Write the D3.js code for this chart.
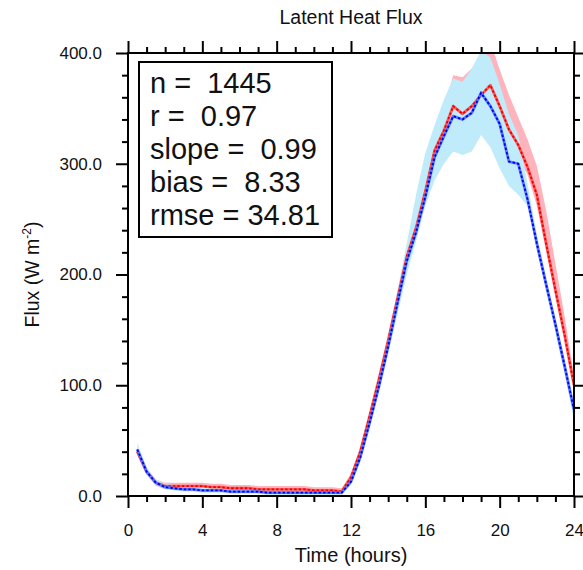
<!DOCTYPE html>
<html>
<head>
<meta charset="utf-8">
<script src="https://cdn.jsdelivr.net/npm/d3@7/dist/d3.min.js"></script>
<style>
  html, body { margin: 0; padding: 0; background: #fff; }
  svg { display: block; }
  text { font-family: "Liberation Sans", Arial, Helvetica, sans-serif; fill: #111; }
</style>
</head>
<body>
<svg id="chart" width="583" height="570"></svg>
<script>
// ---- data ----
const hours = [0.5,1,1.5,2,2.5,3,3.5,4,4.5,5,5.5,6,6.5,7,7.5,8,8.5,9,9.5,10,10.5,11,11.5,
               12,12.5,13,13.5,14,14.5,15,15.5,16,16.5,17,17.5,18,18.5,19,19.5,20,20.5,21,21.5,22,22.5,23,23.5,24];
const redSeries = [40,22,12,9,9,9,9,9,8,8,7,7,7,6,6,6,6,6,6,5,5,5,4,
                   17,40,72,105,140,178,216,242,275,312,330,352,345,352,362,371,352,331,317,297,272,228,186,145,100];
const redHigh   = [43,25,15,12,12,12,12,12,11,11,10,10,10,9,9,9,9,9,9,8,8,8,7,
                   20,44,76,110,146,184,222,250,285,322,350,380,378,386,398,410,385,362,342,322,298,258,210,162,108];
const redLow    = [37,19,9,6,6,6,6,6,5,5,4,4,4,3,3,3,3,3,3,2,2,2,1,
                   14,36,68,100,134,172,210,236,268,305,322,340,335,340,350,360,335,320,305,290,262,222,180,140,95];
const blueSeries = [42,22,12,8,7,6,6,5,5,5,4,4,4,4,3,3,3,3,3,3,3,3,3,
                    13,35,66,99,135,174,212,238,270,306,325,343,340,346,364,352,336,302,300,268,228,191,155,117,78];
const blueHigh   = [48,26,15,11,10,9,9,8,8,8,7,7,7,7,6,6,6,6,6,6,6,6,5,
                    17,40,72,106,144,186,228,272,310,335,358,377,374,386,402,396,372,345,326,282,236,198,160,122,84];
const blueLow    = [37,19,10,6,5,4,4,3,3,3,2,2,2,2,1,1,1,1,1,1,1,1,1,
                    10,31,61,93,128,164,200,230,262,285,300,311,308,311,326,315,296,280,272,262,222,186,148,110,68];

const xMajorTicks = [0,4,8,12,16,20,24];
const xMinorTicks = [1,2,3,5,6,7,9,10,11,13,14,15,17,18,19,21,22,23];
const yMajorTicks = [0,100,200,300,400];
const yMinorTicks = [20,40,60,80,120,140,160,180,220,240,260,280,320,340,360,380];
const yTickLabels = ["0.0","100.0","200.0","300.0","400.0"];

const titleText = "Latent Heat Flux";
const xTitle = "Time (hours)";
const statLines = ["n =  1445", "r =  0.97", "slope =  0.99", "bias =  8.33", "rmse = 34.81"];

// ---- layout ----
const L = 128, R = 574, T = 53, B = 496;
const svg = d3.select("#chart");
const x = d3.scaleLinear().domain([0, 24]).range([L, R]);
const y = d3.scaleLinear().domain([0, 400]).range([B, T]);

svg.append("defs").append("clipPath").attr("id", "plotclip")
  .append("rect").attr("x", L).attr("y", T).attr("width", R - L).attr("height", B - T);

const plot = svg.append("g").attr("clip-path", "url(#plotclip)");

function band(hi, lo, color) {
  const data = hours.map((h, i) => ({h, hi: hi[i], lo: lo[i]}));
  plot.append("path").datum(data)
    .attr("fill", color)
    .attr("d", d3.area().x(d => x(d.h)).y0(d => y(d.lo)).y1(d => y(d.hi)));
}
band(redHigh, redLow, "#ffb3bc");
band(blueHigh, blueLow, "#bfebfa");

function series(vals, light, dark) {
  const data = hours.map((h, i) => ({h, v: vals[i]}));
  const line = d3.line().x(d => x(d.h)).y(d => y(d.v));
  plot.append("path").datum(data).attr("fill", "none")
    .attr("stroke", light).attr("stroke-width", 2.8).attr("stroke-linejoin", "round")
    .attr("d", line);
  plot.append("path").datum(data).attr("fill", "none")
    .attr("stroke", dark).attr("stroke-width", 1.8).attr("stroke-dasharray", "2.5,2")
    .attr("d", line);
}
series(redSeries, "#ff5a5a", "#ee0000");
series(blueSeries, "#5a78ff", "#0000e6");

// ---- axes ----
function styleAxis(g) {
  g.select(".domain").remove();
  g.selectAll(".tick line").attr("stroke", "#000").attr("stroke-width", 2);
  g.selectAll(".tick text").attr("font-size", 17).attr("fill", "#222")
    .attr("font-family", '"Liberation Sans", Arial, Helvetica, sans-serif');
}
// bottom
svg.append("g").attr("transform", `translate(0,${B})`)
  .call(d3.axisBottom(x).tickValues(xMajorTicks).tickSize(12).tickPadding(16).tickFormat(d3.format("d")))
  .call(styleAxis);
svg.append("g").attr("transform", `translate(0,${B})`)
  .call(d3.axisBottom(x).tickValues(xMinorTicks).tickSize(6).tickFormat(""))
  .call(styleAxis);
// top
svg.append("g").attr("transform", `translate(0,${T})`)
  .call(d3.axisTop(x).tickValues(xMajorTicks).tickSize(12).tickFormat(""))
  .call(styleAxis);
svg.append("g").attr("transform", `translate(0,${T})`)
  .call(d3.axisTop(x).tickValues(xMinorTicks).tickSize(6).tickFormat(""))
  .call(styleAxis);
// left
svg.append("g").attr("transform", `translate(${L},0)`)
  .call(d3.axisLeft(y).tickValues(yMajorTicks).tickSize(12).tickPadding(14)
    .tickFormat((d, i) => yTickLabels[i]))
  .call(styleAxis);
svg.append("g").attr("transform", `translate(${L},0)`)
  .call(d3.axisLeft(y).tickValues(yMinorTicks).tickSize(6).tickFormat(""))
  .call(styleAxis);
// right
svg.append("g").attr("transform", `translate(${R},0)`)
  .call(d3.axisRight(y).tickValues(yMajorTicks).tickSize(12).tickFormat(""))
  .call(styleAxis);
svg.append("g").attr("transform", `translate(${R},0)`)
  .call(d3.axisRight(y).tickValues(yMinorTicks).tickSize(6).tickFormat(""))
  .call(styleAxis);

// frame
svg.append("rect").attr("x", L).attr("y", T).attr("width", R - L).attr("height", B - T)
  .attr("fill", "none").attr("stroke", "#000").attr("stroke-width", 2);

// ---- titles ----
svg.append("text").attr("x", (L + R) / 2).attr("y", 24).attr("text-anchor", "middle")
  .attr("font-size", 19.5).attr("fill", "#333").text(titleText);

svg.append("text").attr("x", (L + R) / 2).attr("y", 562).attr("text-anchor", "middle")
  .attr("font-size", 20).attr("fill", "#333").text(xTitle);

const yl = svg.append("text")
  .attr("transform", `translate(39,${(T + B) / 2}) rotate(-90)`)
  .attr("text-anchor", "middle").attr("font-size", 19.5).attr("fill", "#333");
yl.append("tspan").text("Flux (W m");
yl.append("tspan").attr("font-size", 12).attr("dy", -8).text("-2");
yl.append("tspan").attr("dy", 8).text(")");

// ---- stats box ----
svg.append("rect").attr("x", 139).attr("y", 62).attr("width", 193).attr("height", 175)
  .attr("fill", "#fff").attr("stroke", "#000").attr("stroke-width", 2);
const statBaselines = [93, 126, 159, 192, 225];
svg.append("g").selectAll("text").data(statLines).join("text")
  .attr("x", 150).attr("y", (d, i) => statBaselines[i])
  .attr("font-size", 29).attr("fill", "#111")
  .attr("xml:space", "preserve").style("white-space", "pre")
  .text(d => d);
</script>
</body>
</html>
